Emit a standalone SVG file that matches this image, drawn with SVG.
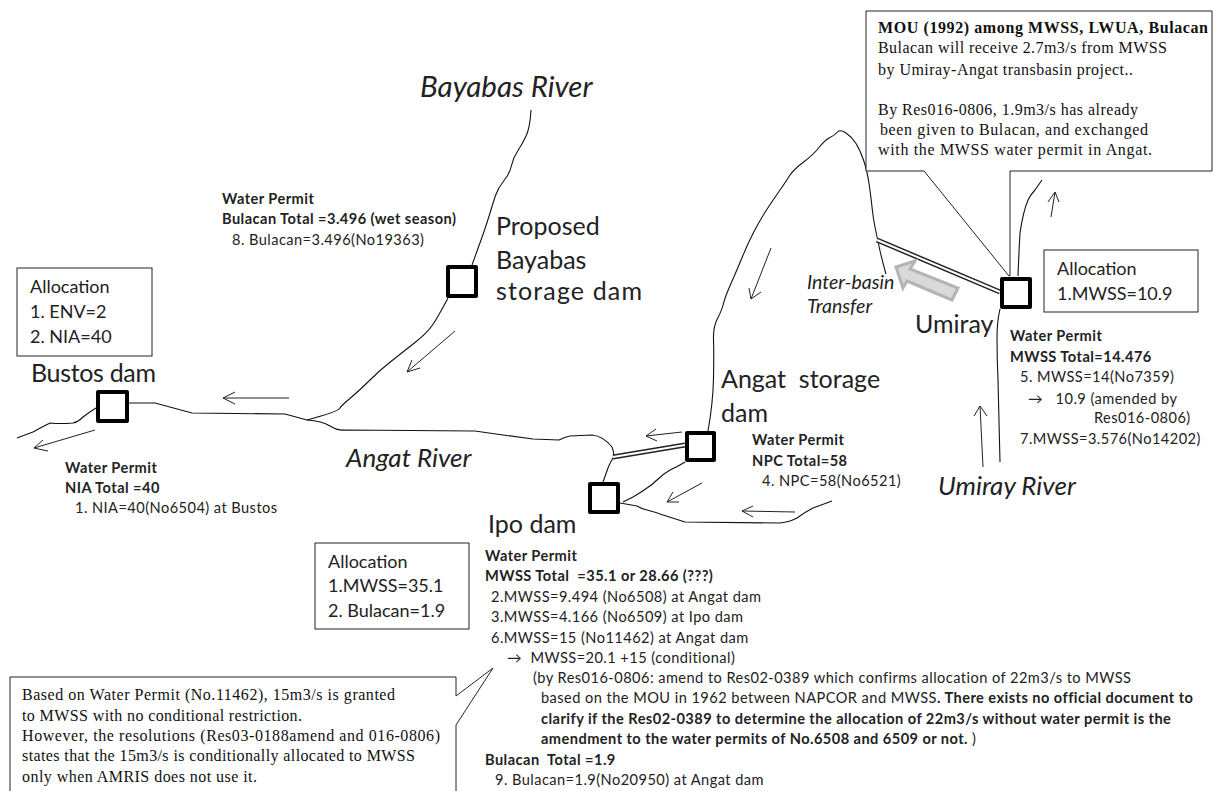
<svg xmlns="http://www.w3.org/2000/svg" width="1215" height="791" viewBox="0 0 1215 791">
<style>
.r{fill:none;stroke:#111;stroke-width:1.1;stroke-linejoin:round}
.d{fill:#fff;stroke:#000;stroke-width:4;stroke-linejoin:round}
.b{fill:#fff;stroke:#222;stroke-width:1}
text{font-family:Lato,"Liberation Sans",sans-serif;fill:#222}
.big{font-size:25px}
.al{font-size:18px}
.it{font-style:italic}
.p{font-size:14.6px;letter-spacing:.45px}
.pb{font-size:14.6px;font-weight:700;letter-spacing:.45px}
.s{font-family:"Liberation Serif",serif;font-size:16px;fill:#111}
.sb{font-family:"Liberation Serif",serif;font-size:16px;font-weight:700;fill:#111}
</style>
<rect width="1215" height="791" fill="#fff"/>
<g id="connectors">
<path class="r" d="M531 110Q530 127 526.5 135Q523 143 518 150.5Q513 158 511.5 165.5Q510 173 504 180.5Q498 188 495.5 195.5Q493 203 490 213Q487 223 483.5 233Q480 243 472 265"/>
<path class="r" d="M448 298Q438 317 432.5 325Q427 333 415 342.5Q403 352 391.5 361Q380 370 370 380Q360 390 351 397.5Q342 405 339.5 408.5Q337 412 307 420"/>
<path class="r" d="M129 403H155L192 413L285 414L307 420Q322 421 330 426T345 430L475 431L503 435L533 439L559 440Q565 437 570 436L592 435Q603 436 612 447Q615 455 613 458Q609 465 608 468L603 482"/>
<path class="r" d="M96 408Q88 413 83 417Q78 422 73 423Q60 424 50 423Q42 427 33 432L17 438"/>
<path class="r" d="M708 431Q713 403 713.5 378Q714 353 713.5 340Q713 327 717.5 318.5Q722 310 723.5 303.5Q725 297 731 283.5Q737 270 742.5 256.5Q748 243 754 231.5Q760 220 766.5 210Q773 200 779 191.5Q785 183 789 176.5Q793 170 803 162.5Q813 155 819 147.5Q825 140 830 137.5Q835 135 837.5 132Q840 129 846 133Q852 137 856 143.5Q860 150 863.5 160Q867 170 869 183.5Q871 197 872 207Q873 217 875 227Q877 237 879.5 248.5Q882 260 886 274"/>
<path class="r" d="M685 462Q677 467 670 470Q663 474 657 480Q652 485 647 488Q640 493 633 497L623 502"/>
<path class="r" d="M620 503L637 506Q642 509 647 510Q655 512 663 515L685 522L780 523Q790 522 797 518Q805 512 813 508L832 501"/>
<path class="r" d="M1018 276Q1019 250 1020 233Q1023 212 1028 200Q1031 194 1035 190L1042 180"/>
<path class="r" d="M1000 309Q997 322 997 337Q997 360 998 380L1000 462"/>
<g fill="none" stroke="#222" stroke-width="1">
<path d="M289 398H223M235 392L223 398L235 404"/>
<path d="M95 430L34 448M43 440L34 448L48 451"/>
<path d="M455 331L407 372M412 360L407 372L420 368"/>
<path d="M682 432L646 436M656 429L646 436L657 441"/>
<path d="M702 483L667 502M673 492L667 502L679 502"/>
<path d="M795 512L742 511M753 506L742 511L753 517"/>
<path d="M771 248L751 299M749 288L751 299L761 292"/>
<path d="M1051 217L1055 192M1048 202L1055 192L1059 202"/>
<path d="M983 467L980 406M974 416L980 406L987 416"/>
</g>
<path d="M877 240L1000 292" fill="none" stroke="#222" stroke-width="5"/>
<path d="M877 240L1000 292" fill="none" stroke="#fff" stroke-width="2"/>
<path d="M613 457L685 445" fill="none" stroke="#222" stroke-width="5"/>
<path d="M613 457L685 445" fill="none" stroke="#fff" stroke-width="2"/>
<path d="M958 288L952 300L907 281L903 288L896 267L915 261L910 269Z" fill="#d9d9d9" stroke="#b4b4b4" stroke-width="3"/>
</g>
<g id="bayabas-river"><text class="it" font-size="29.5" x="420" y="97">Bayabas River</text></g>
<g id="bayabas-dam"><rect class="d" x="448" y="267" width="28" height="29"/>
<text class="big"><tspan x="496" y="235">Proposed</tspan><tspan x="496" y="269">Bayabas</tspan></text><text class="big" x="496" y="300" textLength="146">storage dam</text></g>
<g id="bayabas-permit"><text class="pb" x="222" y="204">Water Permit</text><text class="pb" x="222" y="224">Bulacan  Total =3.496 (wet season)</text><text class="p" x="232" y="245">8. Bulacan=3.496(No19363)</text></g>
<g id="bustos-alloc"><rect class="b" x="17" y="268" width="135" height="88"/><text class="al"><tspan x="30" y="293">Allocation</tspan><tspan x="30" y="318">1. ENV=2</tspan><tspan x="30" y="343">2. NIA=40</tspan></text></g>
<g id="bustos-dam"><rect class="d" x="98" y="392" width="29" height="29"/><text class="big" x="31" y="382" textLength="125">Bustos dam</text></g>
<g id="bustos-permit"><text class="pb" x="65" y="473">Water Permit</text><text class="pb" x="65" y="493">NIA Total =40</text><text class="p" x="75" y="513">1. NIA=40(No6504) at Bustos</text></g>
<g id="angat-river"><text class="it" font-size="26" x="346" y="467">Angat River</text></g>
<g id="angat-dam"><rect class="d" x="687" y="433" width="27" height="27"/><text class="big"><tspan x="721" y="388" xml:space="preserve">Angat  storage</tspan><tspan x="721" y="422">dam</tspan></text></g>
<g id="npc-permit"><text class="pb" x="752" y="445">Water Permit</text><text class="pb" x="752" y="466">NPC Total=58</text><text class="p" x="762" y="486">4. NPC=58(No6521)</text></g>
<g id="ipo-dam"><rect class="d" x="590" y="484" width="28" height="28"/><text class="big" x="488" y="533">Ipo dam</text></g>
<g id="ipo-alloc"><rect class="b" x="315" y="543" width="154" height="86"/><text class="al"><tspan x="328" y="568">Allocation</tspan><tspan x="328" y="592">1.MWSS=35.1</tspan><tspan x="328" y="617">2. Bulacan=1.9</tspan></text></g>
<g id="ipo-permit">
<text class="pb" x="485" y="561">Water Permit</text>
<text class="pb" x="485" y="581" xml:space="preserve">MWSS Total  =35.1 or 28.66 (???)</text>
<text class="p" x="491" y="602">2.MWSS=9.494 (No6508) at Angat dam</text>
<text class="p" x="491" y="622">3.MWSS=4.166 (No6509) at Ipo dam</text>
<text class="p" x="491" y="643">6.MWSS=15 (No11462) at Angat dam</text>
<text class="p" x="507" y="663" xml:space="preserve">→  MWSS=20.1 +15 (conditional)</text>
<text class="p" x="533" y="683">(by Res016-0806: amend to Res02-0389 which confirms allocation of 22m3/s to MWSS</text>
<text class="p" x="541" y="703">based on the MOU in 1962 between NAPCOR and MWSS<tspan font-weight="700">. There exists no official document to</tspan></text>
<text class="pb" x="541" y="724">clarify  if the Res02-0389 to determine the allocation  of 22m3/s without water permit is the</text>
<text class="pb" x="541" y="744">amendment to the water permits of No.6508 and 6509  or not. <tspan font-weight="400">)</tspan></text>
<text class="pb" x="485" y="765" xml:space="preserve">Bulacan  Total =1.9</text>
<text class="p" x="495" y="785">9. Bulacan=1.9(No20950) at Angat dam</text>
</g>
<g id="note-amris"><path class="b" d="M10 791V677H456V696L493 668L456 725V791"/>
<text class="s" x="22" y="700" textLength="373">Based on Water Permit (No.11462), 15m3/s is granted</text>
<text class="s" x="22" y="721" textLength="280">to MWSS with no conditional restriction.</text>
<text class="s" x="22" y="741" textLength="418">However, the resolutions (Res03-0188amend and 016-0806)</text>
<text class="s" x="22" y="761" textLength="393">states that the 15m3/s is conditionally allocated to MWSS</text>
<text class="s" x="22" y="782" textLength="235">only when AMRIS does not use it.</text></g>
<g id="note-mou"><path class="b" d="M866 11H1212V171H1010V276L1009 276L924 171H866Z"/>
<text class="sb" x="878" y="33" textLength="330">MOU (1992) among MWSS, LWUA, Bulacan</text>
<text class="s" x="878" y="53" textLength="289">Bulacan will receive 2.7m3/s from MWSS</text>
<text class="s" x="878" y="75" textLength="255">by Umiray-Angat transbasin project..</text>
<text class="s" x="878" y="115" textLength="260">By Res016-0806, 1.9m3/s has already</text>
<text class="s" x="880" y="135" textLength="268">been given to Bulacan, and exchanged</text>
<text class="s" x="878" y="155" textLength="274">with the MWSS water permit in Angat.</text></g>
<g id="transfer-label"><text class="it" font-size="19.5"><tspan x="807" y="289">Inter-basin</tspan><tspan x="807" y="313">Transfer</tspan></text></g>
<g id="umiray-dam"><rect class="d" x="1002" y="279" width="28" height="28"/><text class="big" x="915" y="333">Umiray</text></g>
<g id="umiray-alloc"><rect class="b" x="1044" y="250" width="154" height="62"/><text class="al"><tspan x="1057" y="275">Allocation</tspan><tspan x="1057" y="300">1.MWSS=10.9</tspan></text></g>
<g id="umiray-permit"><text class="pb" x="1010" y="341">Water Permit</text><text class="pb" x="1010" y="362">MWSS Total=14.476</text>
<text class="p" x="1020" y="382">5. MWSS=14(No7359)</text><text class="p" x="1028" y="404" xml:space="preserve">→   10.9 (amended by</text><text class="p" x="1094" y="423">Res016-0806)</text><text class="p" x="1020" y="444">7.MWSS=3.576(No14202)</text></g>
<g id="umiray-river"><text class="it" font-size="26" x="938" y="495">Umiray River</text></g>
</svg>
